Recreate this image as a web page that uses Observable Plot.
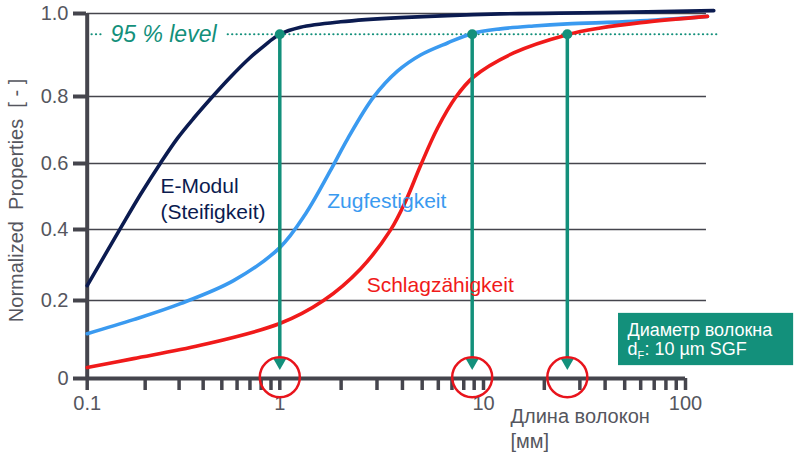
<!DOCTYPE html>
<html><head><meta charset="utf-8">
<script src="https://cdn.jsdelivr.net/npm/d3@7"></script>
<script src="https://cdn.jsdelivr.net/npm/@observablehq/plot@0.6"></script>
<style>body{margin:0;background:#fff} #chart svg{display:block}</style>
</head><body><div id="chart"></div>
<script>
// ---- ticks ----
const yTicks = [0, 0.2, 0.4, 0.6, 0.8, 1.0];
const xTicks = [0.1,0.2,0.3,0.4,0.5,0.6,0.7,0.8,0.9,1,2,3,4,5,6,7,8,9,10,20,30,40,50,60,70,80,90,100];
const xTickLabels = [0.1, 1, 10, 100];

// ---- series (fibre length in mm, normalized property) ----
const emodulX = [0.1, 0.149, 0.189, 0.24, 0.294, 0.357, 0.454, 0.555, 0.68, 0.823, 1.0, 1.264, 1.99, 3.91, 12.1, 37.9, 138];
const emodulY = [0.242, 0.404, 0.506, 0.601, 0.675, 0.735, 0.803, 0.847, 0.888, 0.921, 0.95, 0.967, 0.98, 0.99, 0.999, 1.002, 1.007];
const zugX = [0.1, 0.174, 0.305, 0.575, 1.0, 1.337, 1.774, 2.149, 2.884, 3.78, 4.91, 6.66, 8.83, 12.14, 17.7, 26.0, 55.3, 128.5];
const zugY = [0.115, 0.151, 0.192, 0.256, 0.349, 0.447, 0.579, 0.673, 0.798, 0.861, 0.9, 0.929, 0.952, 0.963, 0.97, 0.975, 0.981, 0.993];
const schlagX = [0.1, 0.174, 0.387, 1.0, 1.639, 2.49, 3.5, 4.14, 4.91, 5.95, 7.29, 8.93, 14.1, 26.0, 37.9, 59.9, 128.5];
const schlagY = [0.028, 0.051, 0.085, 0.141, 0.2, 0.289, 0.399, 0.485, 0.594, 0.706, 0.797, 0.847, 0.905, 0.949, 0.965, 0.978, 0.993];

// ---- 95 % level annotation ----
const levelValue = 0.95;
const levelCrossX = [1, 8.8, 26];

// ---- labels ----
const seriesNames = ["E-Modul\n(Steifigkeit)", "Zugfestigkeit", "Schlagzähigkeit"];
const seriesColors = ["#0b1b50", "#3a9af0", "#f01a1a"];
const seriesLabelX = [0.24, 1.71, 2.67];
const seriesLabelY = [0.433, 0.464, 0.223];

const teal = "#13907b";
const axisColor = "#45454d";
const textGray = "#55565e";
const font = "'Liberation Sans', Arial, Helvetica, sans-serif";

const series = [
  {name: seriesNames[0], xs: emodulX, ys: emodulY},
  {name: seriesNames[1], xs: zugX, ys: zugY},
  {name: seriesNames[2], xs: schlagX, ys: schlagY}
];
const lineRows = series.flatMap(s => s.xs.map((x, i) => ({series: s.name, x, y: s.ys[i]})));
const labelRows = seriesNames.map((t, i) => ({t, x: seriesLabelX[i], y: seriesLabelY[i], c: seriesColors[i]}));

const chart = Plot.plot({
  width: 800,
  height: 461,
  marginLeft: 86, marginRight: 115, marginTop: 13, marginBottom: 83,
  style: {fontFamily: font, background: "#fff"},
  x: {type: "log", domain: [0.1, 1, 10, 100], range: [86.7, 279.3, 483, 685]},
  y: {type: "linear", domain: yTicks, range: [378, 300, 229, 163, 96, 13]},
  color: {domain: seriesNames, range: seriesColors},
  marks: [
    // grid
    Plot.ruleY(yTicks.filter(d => d > 0), {x1: 0.1, x2: 127, stroke: axisColor, strokeWidth: 1.6}),
    // axes
    Plot.axisY(yTicks, {anchor: "left", tickSize: 13, tickPadding: 5, stroke: axisColor, strokeWidth: 4,
      fill: textGray, fontSize: 20, tickFormat: d => d === 0 ? "0" : d.toFixed(1), label: null}),
    Plot.axisX(xTicks, {anchor: "bottom", tickSize: 12, tickPadding: 5, stroke: axisColor, strokeWidth: 3.5,
      fill: textGray, fontSize: 20, tickFormat: d => xTickLabels.includes(d) ? String(d) : "", label: null}),
    Plot.ruleX([0.1], {y1: 0, y2: 1.0, stroke: axisColor, strokeWidth: 4}),
    Plot.ruleY([0], {x1: 0.1, x2: 100, stroke: axisColor, strokeWidth: 4}),
    // 95 % level dotted line
    Plot.ruleY([levelValue], {x1: 0.106, x2: 0.121, stroke: teal, strokeWidth: 2.2, strokeDasharray: "0.1 4.3", strokeLinecap: "round"}),
    Plot.ruleY([levelValue], {x1: 0.54, x2: 145, stroke: teal, strokeWidth: 2.2, strokeDasharray: "0.1 4.3", strokeLinecap: "round"}),
    Plot.text(["95 % level"], {x: 0.132, y: levelValue, textAnchor: "start", lineAnchor: "middle", fill: teal, fontSize: 23, fontStyle: "italic"}),
    // curves
    Plot.line(lineRows, {x: "x", y: "y", z: "series", stroke: "series", strokeWidth: 3.6, curve: "catmull-rom"}),
    // arrows
    Plot.ruleX(levelCrossX, {y1: levelValue, y2: 0.05, stroke: teal, strokeWidth: 3.5}),
    Plot.dot(levelCrossX, {x: d => d, y: levelValue, r: 5, fill: teal}),
    Plot.dot(levelCrossX, {x: d => d, y: 0.042, r: 5, symbol: "triangle", rotate: 180, fill: teal}),
    Plot.dot(levelCrossX, {x: d => d, y: 0.003, r: 20, stroke: "#e8141c", strokeWidth: 2.5, fill: "none"}),
    // series labels
    Plot.text(labelRows, {x: "x", y: "y", text: "t", fill: "c", textAnchor: "start", lineAnchor: "bottom", lineHeight: 1.24, fontSize: 21}),
    // box
    Plot.rect([0], {x1: 46.6, x2: 343, y1: 0.033, y2: 0.167, fill: teal}),
    Plot.text(["Диаметр волокна"], {x: 51.6, y: 0.110, textAnchor: "start", lineAnchor: "bottom", fill: "#fff", fontSize: 18}),
    Plot.text(["d"], {x: 51.6, y: 0.059, textAnchor: "start", lineAnchor: "bottom", fill: "#fff", fontSize: 18}),
    Plot.text(["F"], {x: 51.6, y: 0.059, dx: 10, dy: 4, textAnchor: "start", lineAnchor: "bottom", fill: "#fff", fontSize: 11}),
    Plot.text([": 10 µm SGF"], {x: 51.6, y: 0.059, dx: 17, textAnchor: "start", lineAnchor: "bottom", fill: "#fff", fontSize: 18}),
    // axis titles
    Plot.text(["Normalized\u00a0\u00a0Properties\u00a0\u00a0[\u00a0-\u00a0]"], {x: 0.043, y: 0.488, rotate: -90, textAnchor: "middle", lineAnchor: "middle", fill: textGray, fontSize: 20}),
    Plot.text(["Длина волокон\n[мм]"], {x: 13.6, y: -0.177, textAnchor: "start", lineAnchor: "bottom", lineHeight: 1.25, fill: textGray, fontSize: 20})
  ]
});
document.getElementById("chart").appendChild(chart);
</script>
</body></html>
